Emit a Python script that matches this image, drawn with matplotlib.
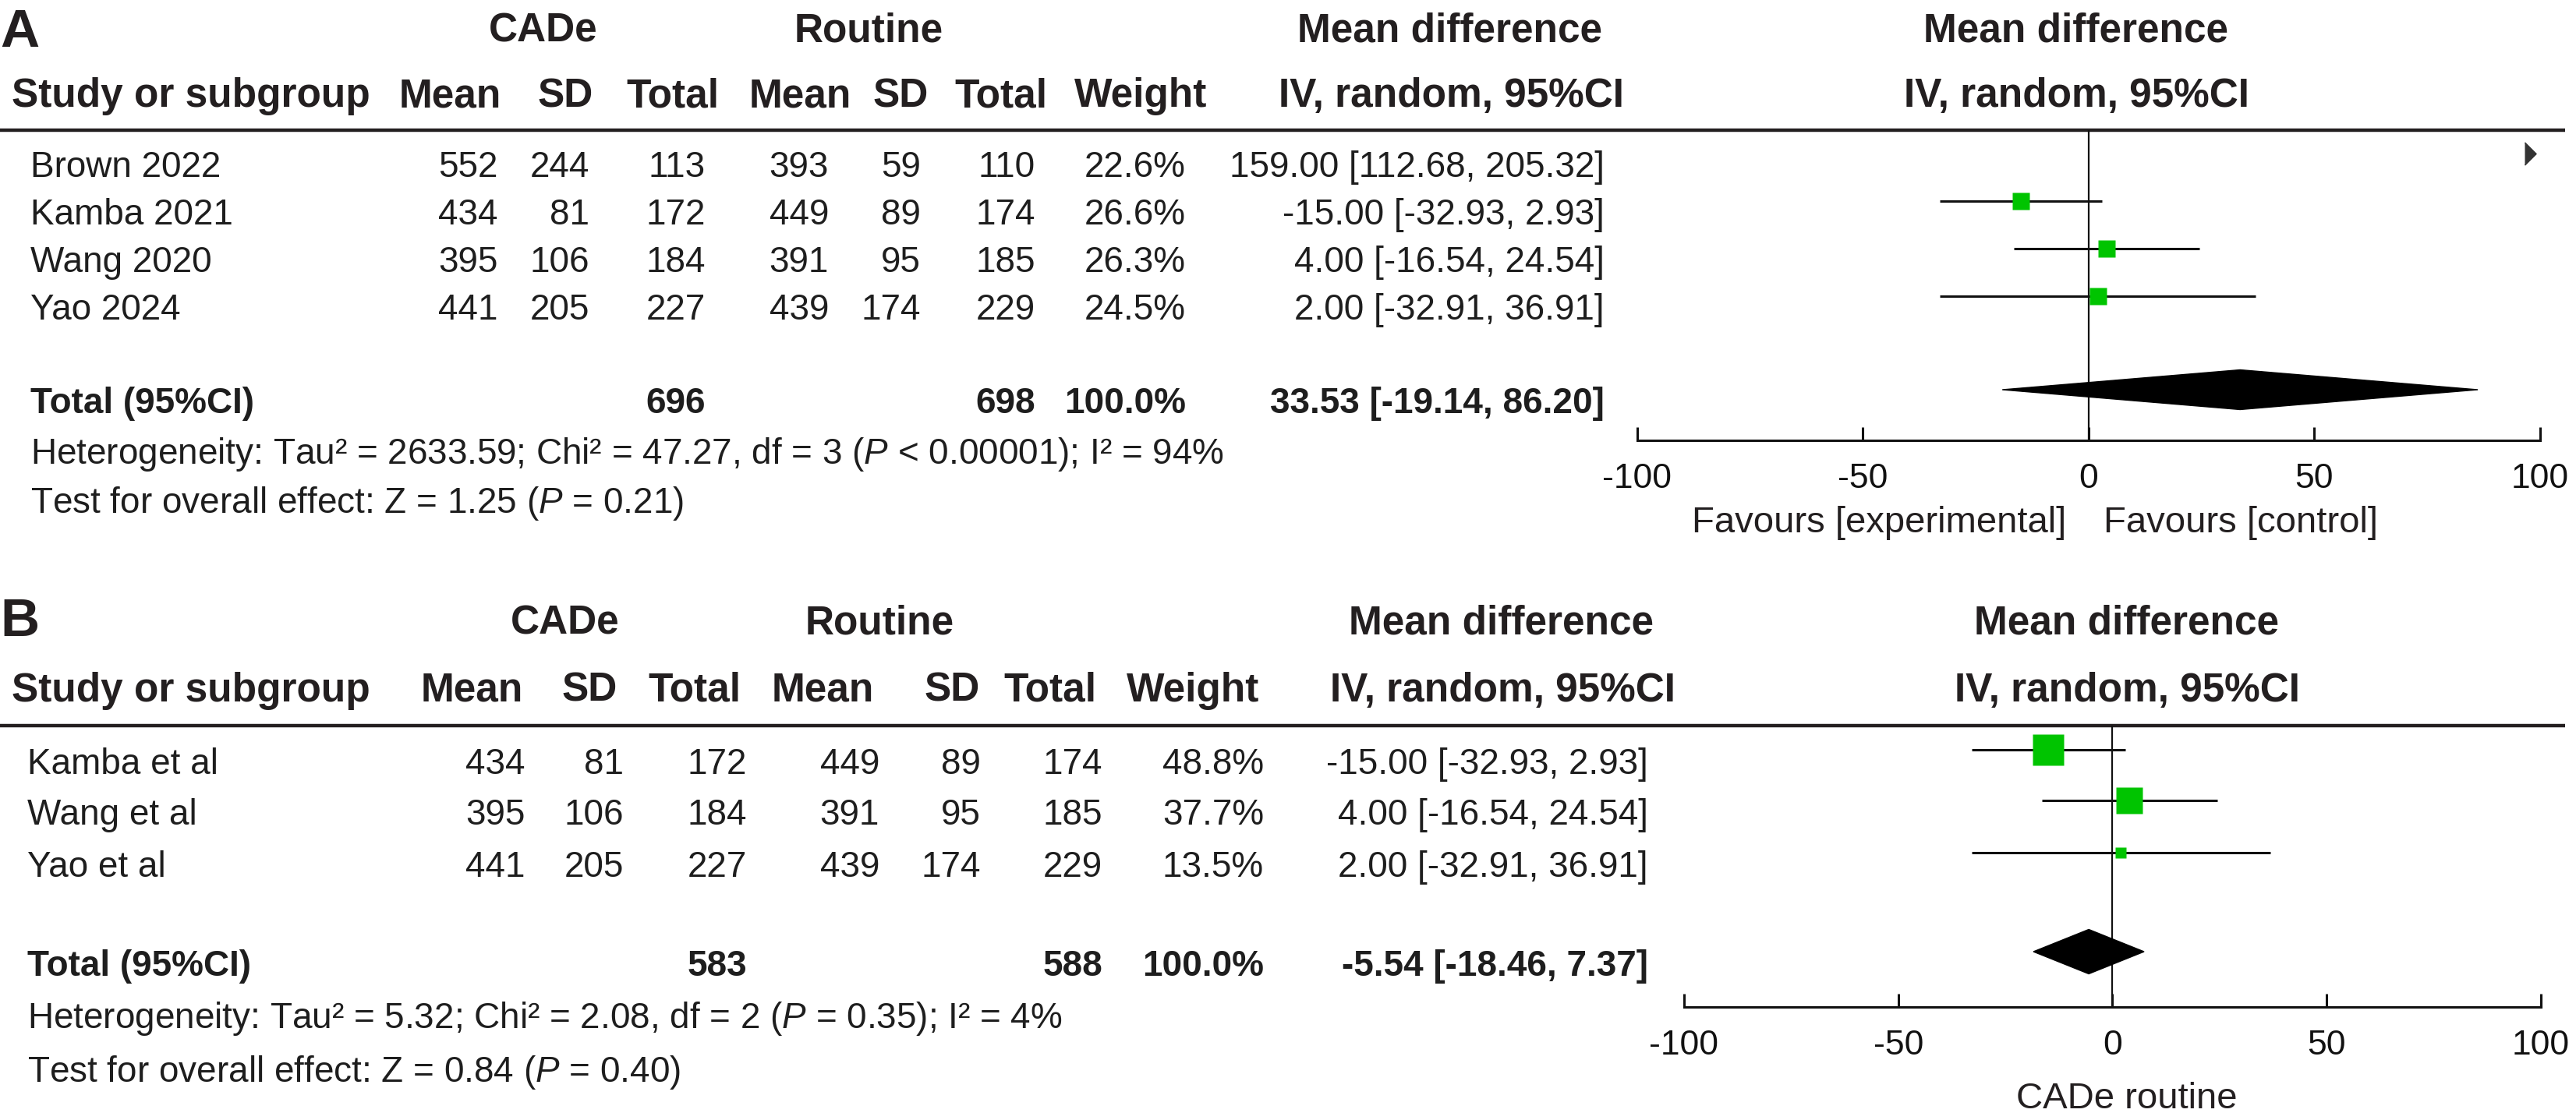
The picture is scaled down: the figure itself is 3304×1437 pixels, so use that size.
import matplotlib
matplotlib.use("Agg")
import matplotlib.pyplot as plt
from matplotlib.patches import Polygon

plt.rcParams['font.family'] = ['Liberation Sans', 'DejaVu Sans']
plt.rcParams['mathtext.fontset'] = 'custom'
plt.rcParams['mathtext.rm'] = 'Liberation Sans'
plt.rcParams['mathtext.it'] = 'Liberation Sans:italic'

W, H = 3305, 1437
HEAD = '#231f20'
BODY = '#1e1e1e'
GREEN = '#00c400'

# ---------------- data: panel A ----------------
a_studies = ["Brown 2022", "Kamba 2021", "Wang 2020", "Yao 2024"]
a_cade_mean = [552, 434, 395, 441]
a_cade_sd = [244, 81, 106, 205]
a_cade_n = [113, 172, 184, 227]
a_rout_mean = [393, 449, 391, 439]
a_rout_sd = [59, 89, 95, 174]
a_rout_n = [110, 174, 185, 229]
a_weight = [22.6, 26.6, 26.3, 24.5]
a_md = [159.00, -15.00, 4.00, 2.00]
a_lo = [112.68, -32.93, -16.54, -32.91]
a_hi = [205.32, 2.93, 24.54, 36.91]
a_tot_n = [696, 698]
a_pooled = [33.53, -19.14, 86.20]
a_het = "Heterogeneity: Tau² = 2633.59; Chi² = 47.27, df = 3 ($\\mathit{P}$ < 0.00001); I² = 94%"
a_test = "Test for overall effect: Z = 1.25 ($\\mathit{P}$ = 0.21)"

# ---------------- data: panel B ----------------
b_studies = ["Kamba et al", "Wang et al", "Yao et al"]
b_cade_mean = [434, 395, 441]
b_cade_sd = [81, 106, 205]
b_cade_n = [172, 184, 227]
b_rout_mean = [449, 391, 439]
b_rout_sd = [89, 95, 174]
b_rout_n = [174, 185, 229]
b_weight = [48.8, 37.7, 13.5]
b_md = [-15.00, 4.00, 2.00]
b_lo = [-32.93, -16.54, -32.91]
b_hi = [2.93, 24.54, 36.91]
b_tot_n = [583, 588]
b_pooled = [-5.54, -18.46, 7.37]
b_het = "Heterogeneity: Tau² = 5.32; Chi² = 2.08, df = 2 ($\\mathit{P}$ = 0.35); I² = 4%"
b_test = "Test for overall effect: Z = 0.84 ($\\mathit{P}$ = 0.40)"

ticks = [-100, -50, 0, 50, 100]

fig = plt.figure(figsize=(W / 100, H / 100), dpi=100)
canvas = fig.add_axes([0, 0, 1, 1])
canvas.set_xlim(0, W)
canvas.set_ylim(H, 0)
canvas.axis('off')


def panel(letter, studies, cm, cs, cn, rm, rs, rn, wt, md, lo, hi, tot_n, pooled,
          het, test, lay):
    # headers
    canvas.text(0, lay['letter_y'], letter, fontsize=50, fontweight='bold',
                color=HEAD, va='baseline', ha='left')
    hb = dict(fontsize=37, fontweight='bold', color=HEAD, va='baseline', ha='center')
    y1, y2 = lay['h1'], lay['h2']
    canvas.text(lay['cade_c'], y1, "CADe", **hb)
    canvas.text(lay['rout_c'], y1, "Routine", **hb)
    canvas.text(lay['md_c'], y1, "Mean difference", **hb)
    canvas.text(lay['plot_c'], y1, "Mean difference", **hb)
    canvas.text(15, y2, "Study or subgroup", **{**hb, 'ha': 'left'})
    for lab, cx in zip(["Mean", "SD", "Total", "Mean", "SD", "Total", "Weight",
                        "IV, random, 95%CI"], lay['head_c']):
        canvas.text(cx, y2, lab, **hb)
    canvas.text(lay['plot_c'], y2, "IV, random, 95%CI", **hb)
    canvas.hlines(lay['rule'], 0, 3290, color=HEAD, lw=3.2)

    # table body
    tb = dict(fontsize=33, color=BODY, va='baseline')
    cols = lay['cols']
    for i, name in enumerate(studies):
        y = lay['rows'][i]
        canvas.text(lay['name_x'], y, name, ha='left', **tb)
        vals = [cm[i], cs[i], cn[i], rm[i], rs[i], rn[i], f"{wt[i]:.1f}%",
                f"{md[i]:.2f} [{lo[i]:.2f}, {hi[i]:.2f}]"]
        for v, x in zip(vals, cols):
            canvas.text(x, y, str(v), ha='right', **tb)
    yt = lay['total']
    bb = {**tb, 'fontweight': 'bold'}
    canvas.text(lay['name_x'], yt, "Total (95%CI)", ha='left', **bb)
    canvas.text(cols[2], yt, str(tot_n[0]), ha='right', **bb)
    canvas.text(cols[5], yt, str(tot_n[1]), ha='right', **bb)
    canvas.text(cols[6], yt, f"{sum(wt):.1f}%", ha='right', **bb)
    canvas.text(cols[7], yt, f"{pooled[0]:.2f} [{pooled[1]:.2f}, {pooled[2]:.2f}]",
                ha='right', **bb)
    canvas.text(lay['name_x'], lay['het'], het, ha='left', **tb)
    canvas.text(lay['name_x'], lay['test'], test, ha='left', **tb)

    # forest plot
    x0, x1 = lay['fx']
    ax = fig.add_axes([x0 / W, 0, (x1 - x0) / W, 1])
    ax.set_facecolor('none')
    ax.set_xlim(-100, 100)
    ax.set_ylim(H, 0)
    for s in ['left', 'right', 'top']:
        ax.spines[s].set_visible(False)
    ax.spines['bottom'].set_position(('data', lay['axis']))
    ax.spines['bottom'].set_linewidth(2.2)
    ax.spines['bottom'].set_color('#111111')
    ax.set_yticks([])
    ax.set_xticks(ticks)
    ax.set_xticklabels([str(t) for t in ticks])
    ax.tick_params(axis='x', direction='in', length=12, width=2.2, pad=21,
                   labelsize=32, colors='#111111')
    ax.vlines(0, lay['rule'], lay['axis'], color='#111111', lw=1.6)

    off = lay['mark_off']
    for i in range(len(md)):
        y = lay['rows'][i] - off
        if lo[i] >= 100:
            # CI entirely off the right edge: arrow only
            ax.plot(96.5, y, marker=[(0, -1), (1, 0), (0, 1)], ms=21,
                    color='#333333', ls='none')
            continue
        ax.hlines(y, max(lo[i], -100), min(hi[i], 100), color='#111111', lw=2.2)
        side = lay['sq'](wt[i])
        ax.plot(md[i], y, marker='s', ms=side * 0.72, color=GREEN, mec='none',
                ls='none', zorder=3)
    yd = lay['total'] - off
    h = lay['dia_h'] / 2
    ax.add_patch(Polygon([(pooled[1], yd), (pooled[0], yd - h), (pooled[2], yd),
                          (pooled[0], yd + h)], closed=True, color='black', zorder=3))
    return ax


lay_a = dict(letter_y=60, h1=53, h2=137, cade_c=697, rout_c=1114, md_c=1860,
             plot_c=2663, head_c=[577, 725, 863, 1026, 1155, 1284, 1463, 1861],
             rule=167, rows=[227, 288, 349, 410], total=530, het=595, test=658,
             cols=[639, 756, 905, 1063, 1181, 1328, 1521, 2058], name_x=39,
             fx=(2100, 3258), axis=565, mark_off=30, dia_h=51,
             sq=lambda w: 4.45 * w ** 0.5)
lay_b = dict(letter_y=816, h1=814, h2=900, cade_c=725, rout_c=1128, md_c=1926,
             plot_c=2728, head_c=[605, 756, 891, 1055, 1221, 1347, 1530, 1927],
             rule=931, rows=[993, 1058, 1125], total=1252, het=1319, test=1388,
             cols=[674, 800, 958, 1128, 1258, 1414, 1621, 2114], name_x=35,
             fx=(2160, 3259), axis=1292, mark_off=31, dia_h=57,
             sq=lambda w: 7.8 * w ** 0.5 - 13.7)

panel("A", a_studies, a_cade_mean, a_cade_sd, a_cade_n, a_rout_mean, a_rout_sd,
      a_rout_n, a_weight, a_md, a_lo, a_hi, a_tot_n, a_pooled, a_het, a_test, lay_a)
panel("B", b_studies, b_cade_mean, b_cade_sd, b_cade_n, b_rout_mean, b_rout_sd,
      b_rout_n, b_weight, b_md, b_lo, b_hi, b_tot_n, b_pooled, b_het, b_test, lay_b)

lab = dict(fontsize=34, color=HEAD, va='baseline')
canvas.text(2650, 683, "Favours [experimental]", ha='right', **lab)
canvas.text(2698, 683, "Favours [control]", ha='left', **lab)
canvas.text(2728, 1422, "CADe routine", ha='center', **lab)

fig.savefig("out.png", dpi=100)
